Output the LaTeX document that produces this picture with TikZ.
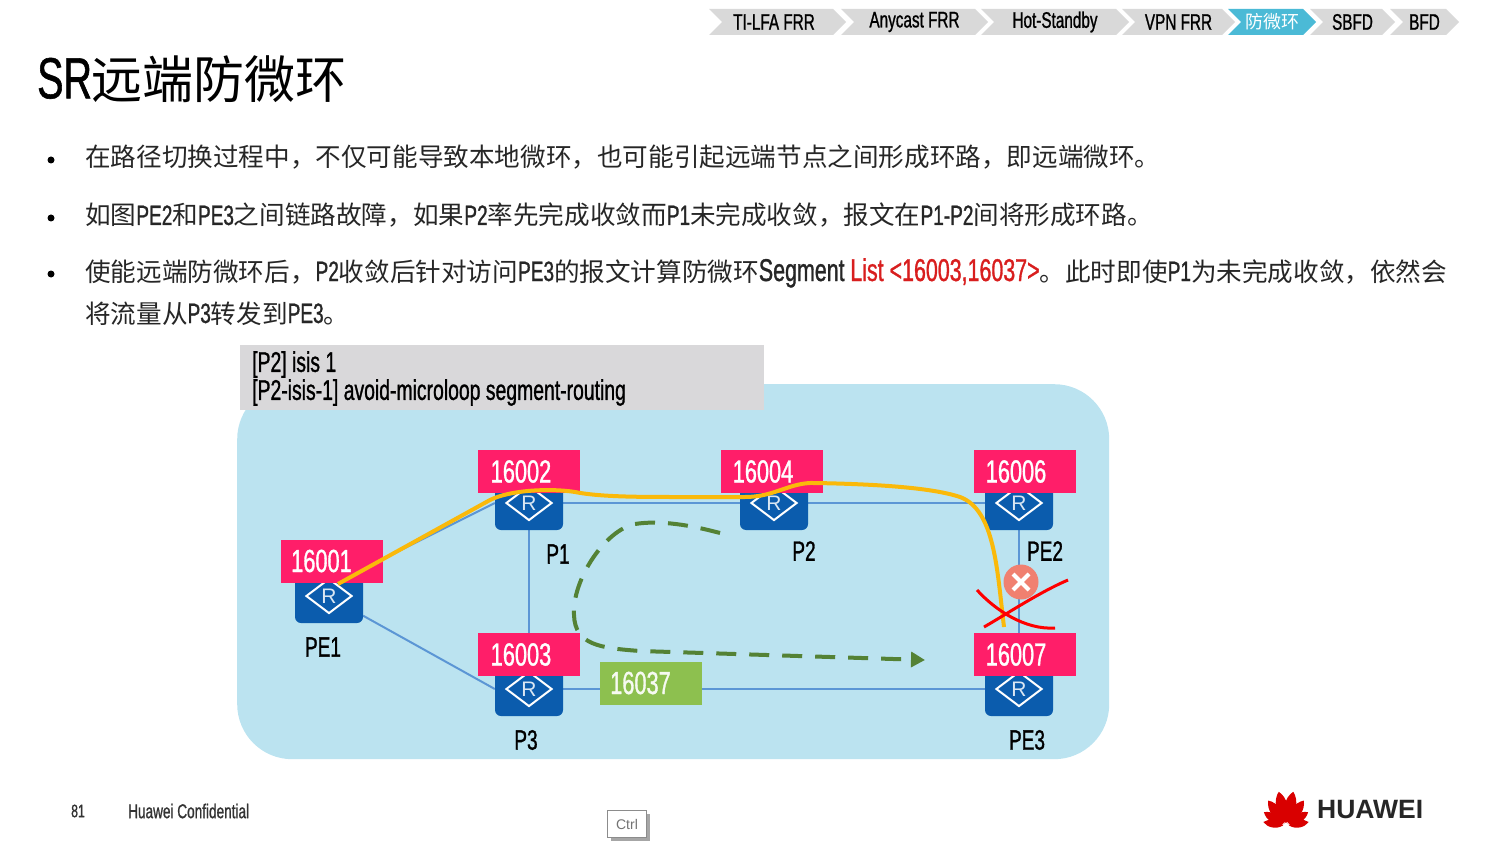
\documentclass[tikz,border=0pt]{standalone}
\usepackage{fontspec}
\usepackage{xcolor}
\setmainfont{Noto Sans CJK SC}
\newfontfamily\cjk{Noto Sans CJK SC}
\newfontfamily\latinfont[FakeStretch=0.68,FakeBold=1]{Liberation Sans}
\newfontfamily\plainfont{Liberation Sans}
\usetikzlibrary{shapes,shapes.symbols,arrows.meta,positioning,backgrounds,shadows}
\definecolor{panelblue}{RGB}{187, 227, 240}
\definecolor{boxgrey}{RGB}{217, 216, 218}
\definecolor{tabgrey}{RGB}{217, 217, 217}
\definecolor{tabblue}{RGB}{75, 186, 214}
\definecolor{routerblue}{RGB}{11, 92, 173}
\definecolor{linkblue}{RGB}{91, 150, 213}
\definecolor{sidpink}{RGB}{255, 30, 105}
\definecolor{sidgreen}{RGB}{141, 192, 79}
\definecolor{pathyellow}{RGB}{250, 185, 10}
\definecolor{dashgreen}{RGB}{84, 130, 53}
\definecolor{textred}{RGB}{216, 30, 30}
\definecolor{faultred}{RGB}{240, 128, 112}
\newcommand{\en}[1]{{\latinfont\fontsize{28}{30}\selectfont #1}}
\newcommand{\enwide}[1]{{\latinfont\fontsize{31.5}{30}\selectfont #1}}
\newcommand{\bodysize}{\fontsize{25.6}{30}\selectfont}
\tikzset{
  tabbox/.style={signal, signal to=east, signal from=west, fill=tabgrey, inner sep=0pt, minimum height=26pt, font=\latinfont\fontsize{22.5}{26}\selectfont},
  bodyline/.style={anchor=west, inner sep=0pt, text height=20pt, text depth=6pt, text=black!85, font=\bodysize},
  bulletdot/.style={circle, fill=black, inner sep=0pt, minimum size=7pt},
  router/.style={rectangle, rounded corners=6pt, fill=routerblue, minimum width=68pt, minimum height=54pt, inner sep=0pt},
  routermark/.style={diamond, draw=white, line width=2pt, aspect=1.3, minimum width=46pt, minimum height=35pt, inner sep=0pt, text=white!85!routerblue, font=\plainfont\fontsize{21}{21}\selectfont},
  sidbox/.style={rectangle, fill=sidpink, text=white, minimum width=102pt, minimum height=43pt, inner sep=0pt, font=\latinfont\fontsize{32}{32}\selectfont},
  namelabel/.style={inner sep=0pt, text=black, font=\latinfont\fontsize{28}{28}\selectfont},
  link/.style={linkblue, line width=2pt}
}
\begin{document}
\begin{tikzpicture}[x=1pt, y=-1pt, node distance=35pt]
  \useasboundingbox (0,0) rectangle (1506,850);

  % Tabs
  \node[tabbox, minimum width=137pt] (tabtilfa) at (777.5,22) {\hspace*{-7pt}TI-LFA FRR};
  \node[tabbox, minimum width=147pt] (tabanycast) at (914.5,22) {Anycast FRR};
  \node[tabbox, minimum width=148pt] (tabstandby) at (1055,22) {Hot-Standby};
  \node[tabbox, minimum width=113pt] (tabvpn) at (1178.5,22) {VPN FRR};
  \node[tabbox, minimum width=88pt, fill=tabblue, text=white] (tabloop) at (1272,22) {\cjk\fontsize{18}{20}\selectfont 防微环};
  \node[tabbox, minimum width=85pt] (tabsbfd) at (1352.5,22) {SBFD};
  \node[tabbox, minimum width=69pt] (tabbfd) at (1424.5,22) {BFD};

  % Title
  \node[anchor=west, inner sep=0pt, text=black, font=\fontsize{51}{56}\selectfont] (title) at (37,79) {{\latinfont\fontsize{58}{58}\selectfont SR}远端防微环};

  % Text
  \node[bulletdot] (dotone) at (51,160) {};
  \node[bulletdot] (dottwo) at (51,218) {};
  \node[bulletdot] (dotthree) at (51,274) {};
  \node[bodyline] (lineone) at (85,160) {在路径切换过程中，不仅可能导致本地微环，也可能引起远端节点之间形成环路，即远端微环。};
  \node[bodyline] (linetwo) at (85,218) {如图\en{PE2}和\en{PE3}之间链路故障，如果\en{P2}率先完成收敛而\en{P1}未完成收敛，报文在\en{P1-P2}间将形成环路。};
  \node[bodyline] (linethree) at (85,274) {使能远端防微环后，\en{P2}收敛后针对访问\en{PE3}的报文计算防微环\enwide{Segment} \textcolor{textred}{\enwide{List <16003,16037>}}。此时即使\en{P1}为未完成收敛，依然会};
  \node[bodyline] (linefour) at (85,316) {将流量从\en{P3}转发到\en{PE3}。};

  % Routers
  \node[router] (pe1) at (329,596) {};
  \node[router] (p1) at (529,503) {};
  \node[router] (p2) at (774,503) {};
  \node[router] (pe2) at (1019,503) {};
  \node[router] (p3) at (529,689) {};
  \node[router] (pe3) at (1019,689) {};
  \node[routermark] (markpe1) at (pe1) {R};
  \node[routermark] (markp1) at (p1) {R};
  \node[routermark] (markp2) at (p2) {R};
  \node[routermark] (markpe2) at (pe2) {R};
  \node[routermark] (markp3) at (p3) {R};
  \node[routermark] (markpe3) at (pe3) {R};

  % SID labels
  \node[sidbox, above of=pe1, xshift=2.5pt] (sidpe1) {\hspace*{-20pt}16001};
  \node[sidbox, above of=p1, node distance=31.5pt] (sidp1) {\hspace*{-16pt}16002};
  \node[sidbox, above of=p2, node distance=31.5pt, xshift=-2pt] (sidp2) {\hspace*{-18pt}16004};
  \node[sidbox, above of=pe2, node distance=31.5pt, xshift=5.5pt] (sidpe2) {\hspace*{-17pt}16006};
  \node[sidbox, above of=p3, node distance=34.5pt] (sidp3) {\hspace*{-16pt}16003};
  \node[sidbox, above of=pe3, node distance=34.5pt, xshift=5.5pt] (sidpe3) {\hspace*{-17pt}16007};
  \node[sidbox, fill=sidgreen, text=white!92!sidgreen] (sidlist) at (650.5,683) {\hspace*{-20pt}16037};

  % Router names
  \node[namelabel] (namepe1) at (323,647) {PE1};
  \node[namelabel] (namep1) at (558,554) {P1};
  \node[namelabel] (namep2) at (804,551) {P2};
  \node[namelabel] (namepe2) at (1045,551) {PE2};
  \node[namelabel] (namep3) at (526,740) {P3};
  \node[namelabel] (namepe3) at (1027,740) {PE3};

  % Command box
  \node[rectangle, fill=boxgrey, anchor=north west, minimum width=524pt, minimum height=65pt, inner sep=0pt] (cmdbox) at (240,345) {};
  \node[anchor=west, inner sep=0pt, align=left, text=black, font=\latinfont\fontsize{28.5}{28}\selectfont] (cmdtext) at (252,378.5) {{[P2] isis 1}\\{}{[P2-isis-1] avoid-microloop segment-routing}};

  % Panel, links and the dashed path
  \begin{scope}[on background layer]
    \node[rectangle, rounded corners=55pt, fill=panelblue, anchor=north west, minimum width=872pt, minimum height=375pt] (panel) at (237,384) {};
    \draw[link] (pe1.north east) -- (p1.west);
    \draw[link] (pe1.-30) -- (p3.west);
    \draw[link] (p1) -- (p2);
    \draw[link] (p2) -- (pe2);
    \draw[link] (p1) -- (p3);
    \draw[link] (p3) -- (pe3);
    \draw[link] (pe2) -- (pe3);
    \coordinate (dashstart) at (720,533);
    \coordinate (dashend) at (925,660);
    \draw[dashgreen, line width=4pt, dash pattern=on 20pt off 13pt, -{Triangle[length=14pt, width=15pt]}]
      (dashstart) .. controls (690,525) and (660,520) .. (635,524)
      .. controls (605,530) and (572,580) .. (574,615)
      .. controls (575,645) and (600,648) .. (640,651) -- (dashend);
  \end{scope}

  % Traffic path
  \coordinate (pathstart) at (338,584);
  \coordinate (pathend) at (1004,627);
  \draw[pathyellow, line width=4pt]
    (pathstart) -- (490,500)
    .. controls (510,490) and (550,488) .. (575,492)
    .. controls (600,497) and (640,497) .. (680,497)
    -- (745,497)
    .. controls (775,497) and (790,482) .. (815,483)
    .. controls (870,484) and (930,487) .. (960,497)
    .. controls (995,510) and (997,570) .. (pathend);

  % Failure
  \node[circle, fill=faultred, minimum size=35pt, inner sep=0pt] (fault) at (1021,582) {};
  \draw[white, line width=4pt] ([shift={(-8,-8)}]fault.center) -- ([shift={(8,8)}]fault.center);
  \draw[white, line width=4pt] ([shift={(-8,8)}]fault.center) -- ([shift={(8,-8)}]fault.center);
  \coordinate (crossa) at (977,590);
  \coordinate (crossb) at (1055,628);
  \coordinate (crossc) at (984,627);
  \coordinate (crossd) at (1068,580);
  \draw[red, line width=3pt] (crossa) .. controls (995,610) and (1025,630) .. (crossb);
  \draw[red, line width=3pt] (crossc) .. controls (1010,612) and (1040,592) .. (crossd);

  % Footer
  \node[inner sep=0pt, text=black!80, font=\latinfont\fontsize{18}{20}\selectfont] (pagenum) at (78,811) {81};
  \node[anchor=west, inner sep=0pt, text=black!80, font=\latinfont\fontsize{20}{20}\selectfont] (confidential) at (128,811) {Huawei Confidential};
  \node[rectangle, draw=black!45, fill=white, minimum width=39pt, minimum height=27pt, inner sep=0pt, text=black!55, font=\plainfont\fontsize{14}{14}\selectfont, drop shadow={shadow xshift=3pt, shadow yshift=-3pt, fill=black!35, opacity=1}] (ctrlkey) at (627,824) {Ctrl};

  % Logo
  \foreach \a/\l in {10/23, 32/26, 55/31, 78/35, 102/35, 125/31, 148/26, 170/23}
    \fill[red!85!black, shift={(1286,826)}, rotate=\a] (3,0) .. controls (0.4*\l,-0.24*\l) and (0.8*\l,-0.2*\l) .. (\l,0) .. controls (0.8*\l,0.2*\l) and (0.4*\l,0.24*\l) .. (3,0);
  \node[anchor=west, inner sep=0pt, text=black!85, font=\plainfont\bfseries\fontsize{26.5}{26}\selectfont] (huawei) at (1317,810) {HUAWEI};
\end{tikzpicture}
\end{document}
